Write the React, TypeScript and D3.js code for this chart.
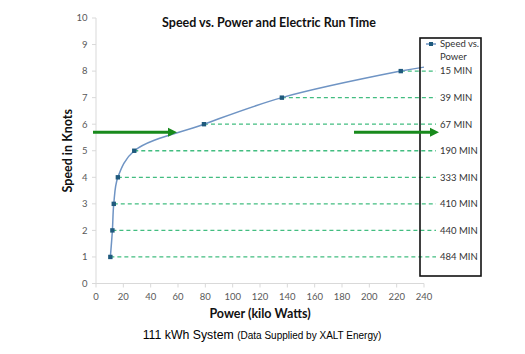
import React from 'react';
import * as d3 from 'd3';

// speed (knots) vs power (kW)
const speeds = [ 1, 2, 3, 4, 5, 6, 7, 8 ];
const powers = [ 10.5, 12, 13, 16, 28, 79, 136, 223 ];
const runTimes = [ '484 MIN', '440 MIN', '410 MIN', '333 MIN', '190 MIN', '67 MIN', '39 MIN', '15 MIN' ];
// the smoothed line carries on past the last marker to the axis end
const lineEnd = { power: 240, speed: 8.15 };
const xTicks = [ 0, 20, 40, 60, 80, 100, 120, 140, 160, 180, 200, 220, 240 ];
const yTicks = [ 0, 1, 2, 3, 4, 5, 6, 7, 8, 9, 10 ];
const arrowSpeed = 5.7;

const font = 'Lato, "Open Sans", sans-serif';
const tickColor = '#595959';
const axisColor = '#d9d9d9';
const lineColor = '#6f94c4';
const markerColor = '#1f5a7d';
const dashColor = '#42bd80';
const arrowColor = '#188a1c';

export default function App() {
  const width = 525;
  const height = 354;

  const x = d3.scaleLinear().domain( [ 0, 240 ] ).range( [ 96, 424 ] );
  const y = d3.scaleLinear().domain( [ 0, 10 ] ).range( [ 283.5, 18 ] );

  const points = speeds.map( ( s, i ) => ( { speed: s, power: powers[ i ] } ) );
  const line = d3.line<{ speed: number; power: number }>()
    .x( d => x( d.power ) )
    .y( d => y( d.speed ) )
    .curve( d3.curveCatmullRom.alpha( 0.5 ) );

  const dashEnd = 436;
  const legendX = 420;
  const legendY = 38;
  const legendW = 61;
  const legendH = 238;

  const arrow = ( x1: number, x2: number, yy: number, key: string ) => (
    <g key={ key }>
      <line x1={ x1 } x2={ x2 - 8 } y1={ yy } y2={ yy } stroke={ arrowColor } strokeWidth={ 3 } />
      <path d={ `M${ x2 - 9 },${ yy - 4.5 } L${ x2 },${ yy } L${ x2 - 9 },${ yy + 4.5 } Z` } fill={ arrowColor } />
    </g>
  );

  return (
    <div style={ { position: 'absolute', left: 0, top: 0 } }>
      <svg width={ width } height={ height } viewBox={ `0 0 ${ width } ${ height }` } style={ { display: 'block', background: '#fff' } }>
        {/* axes */}
        <line x1={ x( 0 ) } x2={ x( 0 ) } y1={ y( 10 ) } y2={ y( 0 ) } stroke={ axisColor } />
        <line x1={ x( 0 ) } x2={ x( 240 ) } y1={ y( 0 ) } y2={ y( 0 ) } stroke={ axisColor } />
        { xTicks.map( t => (
          <g key={ 'x' + t }>
            <line x1={ x( t ) } x2={ x( t ) } y1={ y( 0 ) } y2={ y( 0 ) + 4 } stroke={ axisColor } />
            <text x={ x( t ) } y={ y( 0 ) + 16 } textAnchor="middle" fontSize={ 9.5 } fill={ tickColor } fontFamily={ font }>{ t }</text>
          </g>
        ) ) }
        { yTicks.map( t => (
          <g key={ 'y' + t }>
            <line x1={ x( 0 ) - 4 } x2={ x( 0 ) } y1={ y( t ) } y2={ y( t ) } stroke={ axisColor } />
            <text x={ 87.5 } y={ y( t ) } dy="0.35em" textAnchor="end" fontSize={ 9.5 } fill={ tickColor } fontFamily={ font }>{ t }</text>
          </g>
        ) ) }

        {/* run-time leader lines */}
        { points.map( ( p, i ) => (
          <g key={ 'd' + i }>
            <line x1={ x( p.power ) } x2={ dashEnd } y1={ y( p.speed ) } y2={ y( p.speed ) }
              stroke={ dashColor } strokeWidth={ 1.3 } strokeDasharray="4,3" />
            <text x={ 440 } y={ y( p.speed ) } dy="0.35em" fontSize={ 9.5 } fill="#333" fontFamily={ font }>{ runTimes[ i ] }</text>
          </g>
        ) ) }

        {/* speed vs power curve */}
        <path d={ line( [ ...points, lineEnd ] ) || '' } fill="none" stroke={ lineColor } strokeWidth={ 1.5 } />
        { points.map( ( p, i ) => (
          <rect key={ 'm' + i } x={ x( p.power ) - 2.2 } y={ y( p.speed ) - 2.2 } width={ 4.4 } height={ 4.4 } fill={ markerColor } />
        ) ) }

        {/* legend box */}
        <rect x={ legendX } y={ legendY } width={ legendW } height={ legendH } fill="none" stroke="#111" strokeWidth={ 1.6 } />
        <line x1={ 426 } x2={ 436 } y1={ 44 } y2={ 44 } stroke={ lineColor } strokeWidth={ 1.5 } />
        <rect x={ 429 } y={ 42 } width={ 4 } height={ 4 } fill={ markerColor } />
        <text x={ 440 } y={ 44 } dy="0.35em" fontSize={ 9.5 } fill="#333" fontFamily={ font }>Speed vs.</text>
        <text x={ 440 } y={ 57 } dy="0.35em" fontSize={ 9.5 } fill="#333" fontFamily={ font }>Power</text>

        {/* green arrows */}
        { arrow( 93, 177, y( arrowSpeed ), 'a1' ) }
        { arrow( 354, 439, y( arrowSpeed ), 'a2' ) }

        {/* titles */}
        <text x={ 269 } y={ 27 } textAnchor="middle" fontSize={ 12.5 } fontWeight="bold" fill="#111" fontFamily={ font }>Speed vs. Power and Electric Run Time</text>
        <text transform={ `translate(72,${ ( y( 0 ) + y( 10 ) ) / 2 }) rotate(-90)` } textAnchor="middle" fontSize={ 12.5 } fontWeight="bold" fill="#111" fontFamily={ font }>Speed in Knots</text>
        <text x={ 260 } y={ 318 } textAnchor="middle" fontSize={ 12.5 } fontWeight="bold" fill="#111" fontFamily={ font }>Power (kilo Watts)</text>
        <text x={ 262 } y={ 339 } textAnchor="middle" fill="#000" fontFamily="'Liberation Sans', Arial, sans-serif">
          <tspan fontSize={ 12.3 }>111 kWh System </tspan>
          <tspan fontSize={ 10 }>(Data Supplied by XALT Energy)</tspan>
        </text>
      </svg>
    </div>
  );
}
